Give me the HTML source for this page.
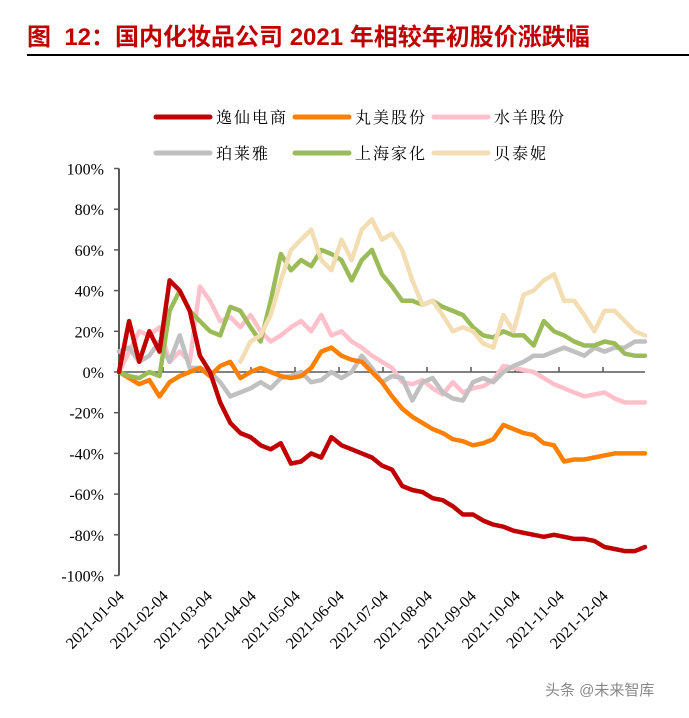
<!DOCTYPE html>
<html><head><meta charset="utf-8">
<style>
body{margin:0;background:#fff;width:689px;height:718px;overflow:hidden;position:relative;font-family:"Liberation Serif","Noto Serif CJK SC",serif}
#title{position:absolute;left:27px;top:17px;font:bold 24px "Liberation Sans","Noto Sans CJK SC",sans-serif;color:#C00000;white-space:nowrap}
#rule{position:absolute;left:27px;top:54px;width:662px;height:2px;background:#000}
#wm{position:absolute;left:545px;top:679px;font:15px "Liberation Sans","Noto Sans CJK SC",sans-serif;color:#888}
</style></head><body>
<div id="title">图&nbsp; 12：国内化妆品公司 2021 年相较年初股价涨跌幅</div>
<div id="rule"></div>
<svg id="chart" width="689" height="718" style="position:absolute;left:0;top:0"></svg>
<div id="wm">头条 @未来智库</div>
<script>
const monthLabels=["2021-01-04","2021-02-04","2021-03-04","2021-04-04","2021-05-04","2021-06-04","2021-07-04","2021-08-04","2021-09-04","2021-10-04","2021-11-04","2021-12-04"];
const yTicks=[100,80,60,40,20,0,-20,-40,-60,-80,-100];
const seriesNames=["逸仙电商","丸美股份","水羊股份","珀莱雅","上海家化","贝泰妮"];
const seriesColors=["#C00000","#FF8000","#FFC0CB","#C0C0C0","#9BBB59","#F3DDB3"];
const yixian=[0,25,5,20,10,45,40,30,8,0,-15,-25,-30,-32,-36,-38,-35,-45,-44,-40,-42,-32,-36,-38,-40,-42,-46,-48,-56,-58,-59,-62,-63,-66,-70,-70,-73,-75,-76,-78,-79,-80,-81,-80,-81,-82,-82,-83,-86,-87,-88,-88,-86];
const wanmei=[0,-3,-6,-4,-12,-5,-2,0,2,-2,3,5,-3,0,2,0,-2,-3,-2,2,10,12,8,6,5,0,-5,-12,-18,-22,-25,-28,-30,-33,-34,-36,-35,-33,-26,-28,-30,-31,-35,-36,-44,-43,-43,-42,-41,-40,-40,-40,-40];
const shuiyang=[0,10,20,18,22,5,10,5,42,35,25,27,22,28,20,15,18,22,25,20,28,18,20,15,12,8,5,2,-5,-6,-4,-8,-11,-5,-10,-8,-7,-4,3,2,1,0,-3,-6,-8,-10,-12,-11,-10,-13,-15,-15,-15];
const proya=[10,12,5,8,15,5,18,2,2,0,-5,-12,-10,-8,-5,-8,-3,-2,0,-5,-4,0,-3,0,8,2,-5,-2,-3,-14,-5,-3,-10,-13,-14,-5,-3,-5,0,3,5,8,8,10,12,10,8,12,10,12,12,15,15];
const jiahua=[0,-2,-3,0,-2,30,40,30,25,20,18,32,30,22,15,35,58,50,55,52,60,58,55,45,55,60,48,42,35,35,33,35,32,30,28,22,18,17,20,18,18,13,25,20,18,15,13,13,15,14,9,8,8];
const betaini=[null,null,null,null,null,null,null,null,null,null,null,null,5,15,18,28,45,60,65,70,55,50,65,55,70,75,65,68,60,45,33,35,28,20,22,20,14,12,28,20,38,40,45,48,35,35,28,20,30,30,25,20,18];
const allSeries=[yixian,wanmei,shuiyang,proya,jiahua,betaini];

const NS="http://www.w3.org/2000/svg";
const svg=document.getElementById('chart');
const X0=119,X1=645,Y0=372,PER20=40.7;
const nPts=yixian.length;
function xPt(i){return X0+(X1-X0)*i/(nPts-1);}
function xMonth(m){return X0+44*m;}
function yVal(v){return Y0-v*PER20/20;}
function mk(tag,attrs){const e=document.createElementNS(NS,tag);for(const k in attrs)e.setAttribute(k,attrs[k]);svg.appendChild(e);return e;}

const ya=mk('line',{x1:X0,y1:yVal(100),x2:X0,y2:yVal(-100),stroke:'#595959','stroke-width':2});


yTicks.forEach(v=>{
  const t=mk('line',{x1:X0-5,y1:yVal(v),x2:X0,y2:yVal(v),stroke:'#595959','stroke-width':1.5});
  
  
  const l=mk('text',{x:X0-15,y:yVal(v)+6,'text-anchor':'end','font-size':16,fill:'#000','font-family':'Liberation Serif, serif'});
  l.textContent=v+'%';
  
  
});
const xa=mk('line',{x1:X0,y1:Y0,x2:X1,y2:Y0,stroke:'#595959','stroke-width':1.5});


monthLabels.forEach((m,i)=>{
  const x=xMonth(i);
  const t=mk('line',{x1:x,y1:Y0,x2:x,y2:Y0-5,stroke:'#595959','stroke-width':1.5});
  
  
  const l=mk('text',{x:x+6,y:597,'text-anchor':'end','font-size':16,fill:'#000','font-family':'Liberation Serif, serif',transform:`rotate(-45 ${x+6} 597)`});
  l.textContent=m;
  
  
});

const order=[2,3,1,4,5,0];
order.forEach(si=>{
  const d=allSeries[si];let p='';let pen=false;
  d.forEach((v,i)=>{if(v===null){pen=false;return;}p+=(pen?'L':'M')+xPt(i).toFixed(1)+','+yVal(v).toFixed(1);pen=true;});
  const path=mk('path',{d:p,fill:'none',stroke:seriesColors[si],'stroke-width':4.5,'stroke-linejoin':'round','stroke-linecap':'round'});
  
  
});

const legPos=[[156,117],[295,117],[434,117],[156,153],[295,153],[434,153]];
seriesNames.forEach((n,i)=>{
  const [x,y]=legPos[i];
  const s=mk('line',{x1:x,y1:y,x2:x+54,y2:y,stroke:seriesColors[i],'stroke-width':5,'stroke-linecap':'round'});
  
  
  const t=mk('text',{x:x+60,y:y+6,'font-size':16,fill:'#000','letter-spacing':'2','font-family':'Liberation Serif, Noto Serif CJK SC, serif'});
  t.textContent=n;
  
  
});
</script>
</body></html>
